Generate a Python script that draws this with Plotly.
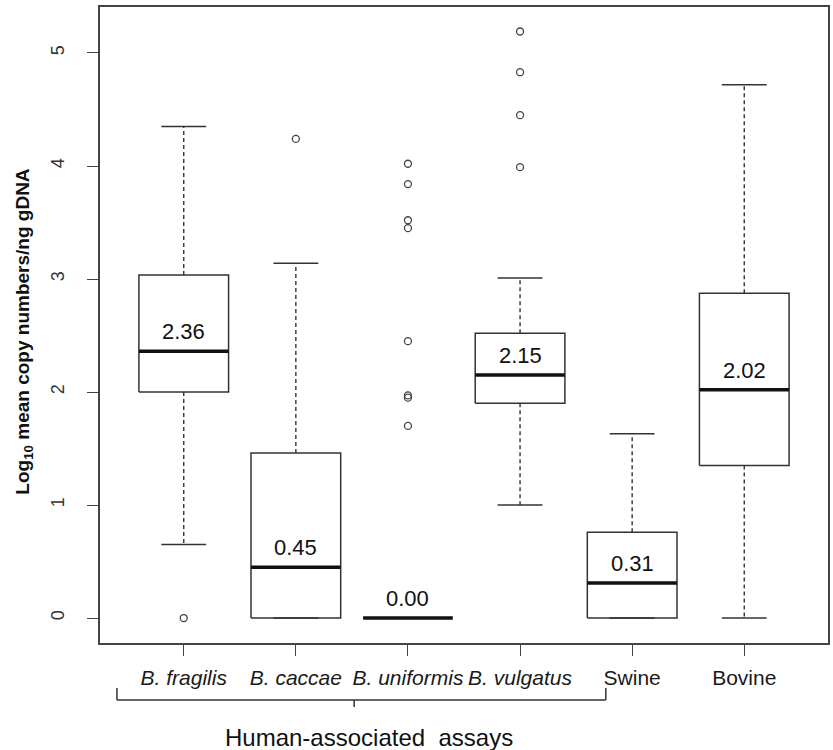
import plotly.graph_objects as go

categories = ["B. fragilis", "B. caccae", "B. uniformis", "B. vulgatus", "Swine", "Bovine"]
italic = [True, True, True, True, False, False]
q1 = [2.00, 0.00, 0.00, 1.90, 0.00, 1.35]
median = [2.36, 0.45, 0.00, 2.15, 0.31, 2.02]
q3 = [3.035, 1.46, 0.00, 2.52, 0.76, 2.875]
lower = [0.65, 0.00, 0.00, 1.00, 0.00, 0.00]
upper = [4.35, 3.14, 0.00, 3.01, 1.63, 4.72]
median_labels = ["2.36", "0.45", "0.00", "2.15", "0.31", "2.02"]
outliers = [
    [0.0],
    [4.24],
    [4.02, 3.84, 3.52, 3.45, 2.45, 1.97, 1.95, 1.70],
    [3.99, 4.45, 4.83, 5.19],
    [],
    [],
]
y_ticks = [0, 1, 2, 3, 4, 5]

BOXW = 0.4
CAPW = 0.2
LC = "#333333"

fig = go.Figure()

bx, by = [], []
wx, wy = [], []
cx, cy = [], []
mx, my = [], []
ox, oy = [], []
for i in range(len(categories)):
    x = i + 1
    if q3[i] > q1[i]:
        bx += [x - BOXW, x + BOXW, x + BOXW, x - BOXW, x - BOXW, None]
        by += [q1[i], q1[i], q3[i], q3[i], q1[i], None]
    if upper[i] > q3[i]:
        wx += [x, x, None]
        wy += [q3[i], upper[i], None]
    if lower[i] < q1[i]:
        wx += [x, x, None]
        wy += [q1[i], lower[i], None]
    cx += [x - CAPW, x + CAPW, None, x - CAPW, x + CAPW, None]
    cy += [upper[i], upper[i], None, lower[i], lower[i], None]
    mx += [x - BOXW, x + BOXW, None]
    my += [median[i], median[i], None]
    for v in outliers[i]:
        ox.append(x)
        oy.append(v)

fig.add_trace(go.Scatter(x=wx, y=wy, mode="lines",
                         line=dict(color=LC, width=1.4, dash="4px,3px"), hoverinfo="skip"))
fig.add_trace(go.Scatter(x=cx, y=cy, mode="lines",
                         line=dict(color=LC, width=1.5), hoverinfo="skip"))
fig.add_trace(go.Scatter(x=bx, y=by, mode="lines",
                         line=dict(color=LC, width=1.5), hoverinfo="skip"))
fig.add_trace(go.Scatter(x=mx, y=my, mode="lines",
                         line=dict(color="#111111", width=3.5), hoverinfo="skip"))
fig.add_trace(go.Scatter(x=ox, y=oy, mode="markers",
                         marker=dict(symbol="circle-open", size=7, color="#444444",
                                     line=dict(width=1.3, color="#444444")),
                         hoverinfo="skip"))

for i, lab in enumerate(median_labels):
    fig.add_annotation(x=i + 1, y=median[i], text=lab, showarrow=False,
                       xanchor="center", yanchor="bottom", yshift=5,
                       font=dict(family="Liberation Sans, Arial", size=22, color="#111111"))

ticktext = [f"<i>{c}</i>" if it else c for c, it in zip(categories, italic)]

fig.update_layout(
    width=833, height=750,
    margin=dict(l=100, r=3, t=7, b=107),
    plot_bgcolor="white", paper_bgcolor="white",
    showlegend=False,
    font=dict(family="Liberation Sans, Arial", color="#222222"),
    xaxis=dict(
        range=[0.253, 6.747],
        tickmode="array", tickvals=list(range(1, len(categories) + 1)), ticktext=ticktext,
        ticks="outside", ticklen=11, tickwidth=1.3, tickcolor="#444444",
        showline=True, mirror=True, linecolor="#444444", linewidth=1.5,
        showgrid=False, zeroline=False,
        tickfont=dict(size=21, color="#1a1a1a"),
        ticklabelstandoff=4,
    ),
    yaxis=dict(
        range=[-0.221, 5.407],
        tickmode="array", tickvals=y_ticks, ticktext=[str(t) for t in y_ticks],
        ticks="outside", ticklen=11, tickwidth=1.3, tickcolor="#444444",
        tickangle=-90,
        showline=True, mirror=True, linecolor="#444444", linewidth=1.5,
        showgrid=False, zeroline=False,
        tickfont=dict(size=18, color="#333333"),
        ticklabelstandoff=16,
    ),
)

# y-axis title
fig.add_annotation(xref="paper", yref="paper", x=-0.104, y=0.49, xanchor="center", yanchor="middle",
                   text="<b>Log<sub>10</sub> mean copy numbers/ng gDNA</b>", textangle=-90,
                   showarrow=False, font=dict(size=19, color="#111111"))

# bracket under human-associated assays
br = dict(color="#333333", width=1.5)
fig.add_shape(type="line", xref="x", yref="paper", x0=0.404, x1=4.765, y0=-0.0896, y1=-0.0896, line=br)
fig.add_shape(type="line", xref="x", yref="paper", x0=0.404, x1=0.404, y0=-0.0708, y1=-0.0896, line=br)
fig.add_shape(type="line", xref="x", yref="paper", x0=4.765, x1=4.765, y0=-0.0708, y1=-0.0896, line=br)
fig.add_shape(type="line", xref="x", yref="paper", x0=2.52, x1=2.52, y0=-0.0896, y1=-0.1006, line=br)
fig.add_annotation(xref="x", yref="paper", x=2.65, y=-0.124, xanchor="center", yanchor="top",
                   text="Human-associated  assays", showarrow=False,
                   font=dict(size=24, color="#111111"))

fig.write_html("out.html")
